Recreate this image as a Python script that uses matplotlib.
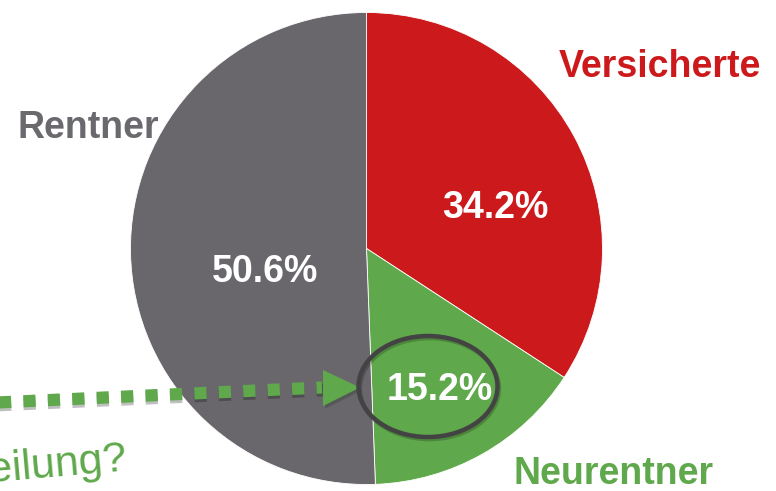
import matplotlib.pyplot as plt
import matplotlib.patheffects as pe
from matplotlib.patches import Ellipse, Polygon

# shares of the pie, clockwise from 12 o'clock
labels = ['Versicherte', 'Neurentner', 'Rentner']
values = [34.2, 15.2, 50.6]
colors = ['#CC1A1C', '#5FA84B', '#69676C']

W, H = 776, 491
green = '#5FA84B'

fig = plt.figure(figsize=(W / 100, H / 100), dpi=100)
ax = fig.add_axes([0, 0, 1, 1])

ax.pie(values, colors=colors, startangle=90, counterclock=False,
       center=(366.5, H - 248.5), radius=236,
       wedgeprops=dict(edgecolor='white', linewidth=0.6))

ax.set_xlim(0, W)
ax.set_ylim(0, H)
ax.set_aspect('equal')
ax.axis('off')

font = 'Liberation Sans'

# percent labels inside the wedges
pct_pos = {'Versicherte': (495, 218), 'Neurentner': (440, 400), 'Rentner': (265, 282)}
for lab, v in zip(labels, values):
    x, y = pct_pos[lab]
    ax.text(x, H - y, f'{v:.1f}%', ha='center', va='baseline', color='white',
            fontsize=27, fontweight='bold', family=font, zorder=5)

# category names outside
name_pos = {'Versicherte': (660, 77), 'Neurentner': (614, 484), 'Rentner': (88, 138)}
name_col = {'Versicherte': '#CC1A1C', 'Neurentner': green, 'Rentner': '#6B696E'}
for lab in labels:
    x, y = name_pos[lab]
    ax.text(x, H - y, lab, ha='center', va='baseline', color=name_col[lab],
            fontsize=27, fontweight='bold', family=font, zorder=5)

# dotted arrow pointing at the Neurentner share
shadow = [pe.SimpleLineShadow(offset=(1.5, -2), shadow_color='black', alpha=0.25), pe.Normal()]
ax.plot([-14, 322], [H - 403, H - 387.5], color=green, lw=8.8,
        linestyle=(0, (1, 1)), dash_capstyle='butt', zorder=6, path_effects=shadow)
head = Polygon([(323, H - 370), (323, H - 406), (360, H - 387.5)], closed=True,
               facecolor=green, edgecolor='none', zorder=6,
               path_effects=[pe.SimplePatchShadow(offset=(1.5, -2), alpha=0.25), pe.Normal()])
ax.add_patch(head)

ring = Ellipse((428, H - 386.5), 139, 101, fill=False, edgecolor='#434343', lw=3.2, zorder=7,
               path_effects=[pe.SimpleLineShadow(offset=(1, -1.5), alpha=0.2), pe.Normal()])
ax.add_patch(ring)

ax.text(128, H - 470, 'Verteilung?', ha='right', va='baseline', rotation=5,
        rotation_mode='anchor', color=green, fontsize=31, family=font, zorder=5)

fig.savefig('out.png', dpi=100)
